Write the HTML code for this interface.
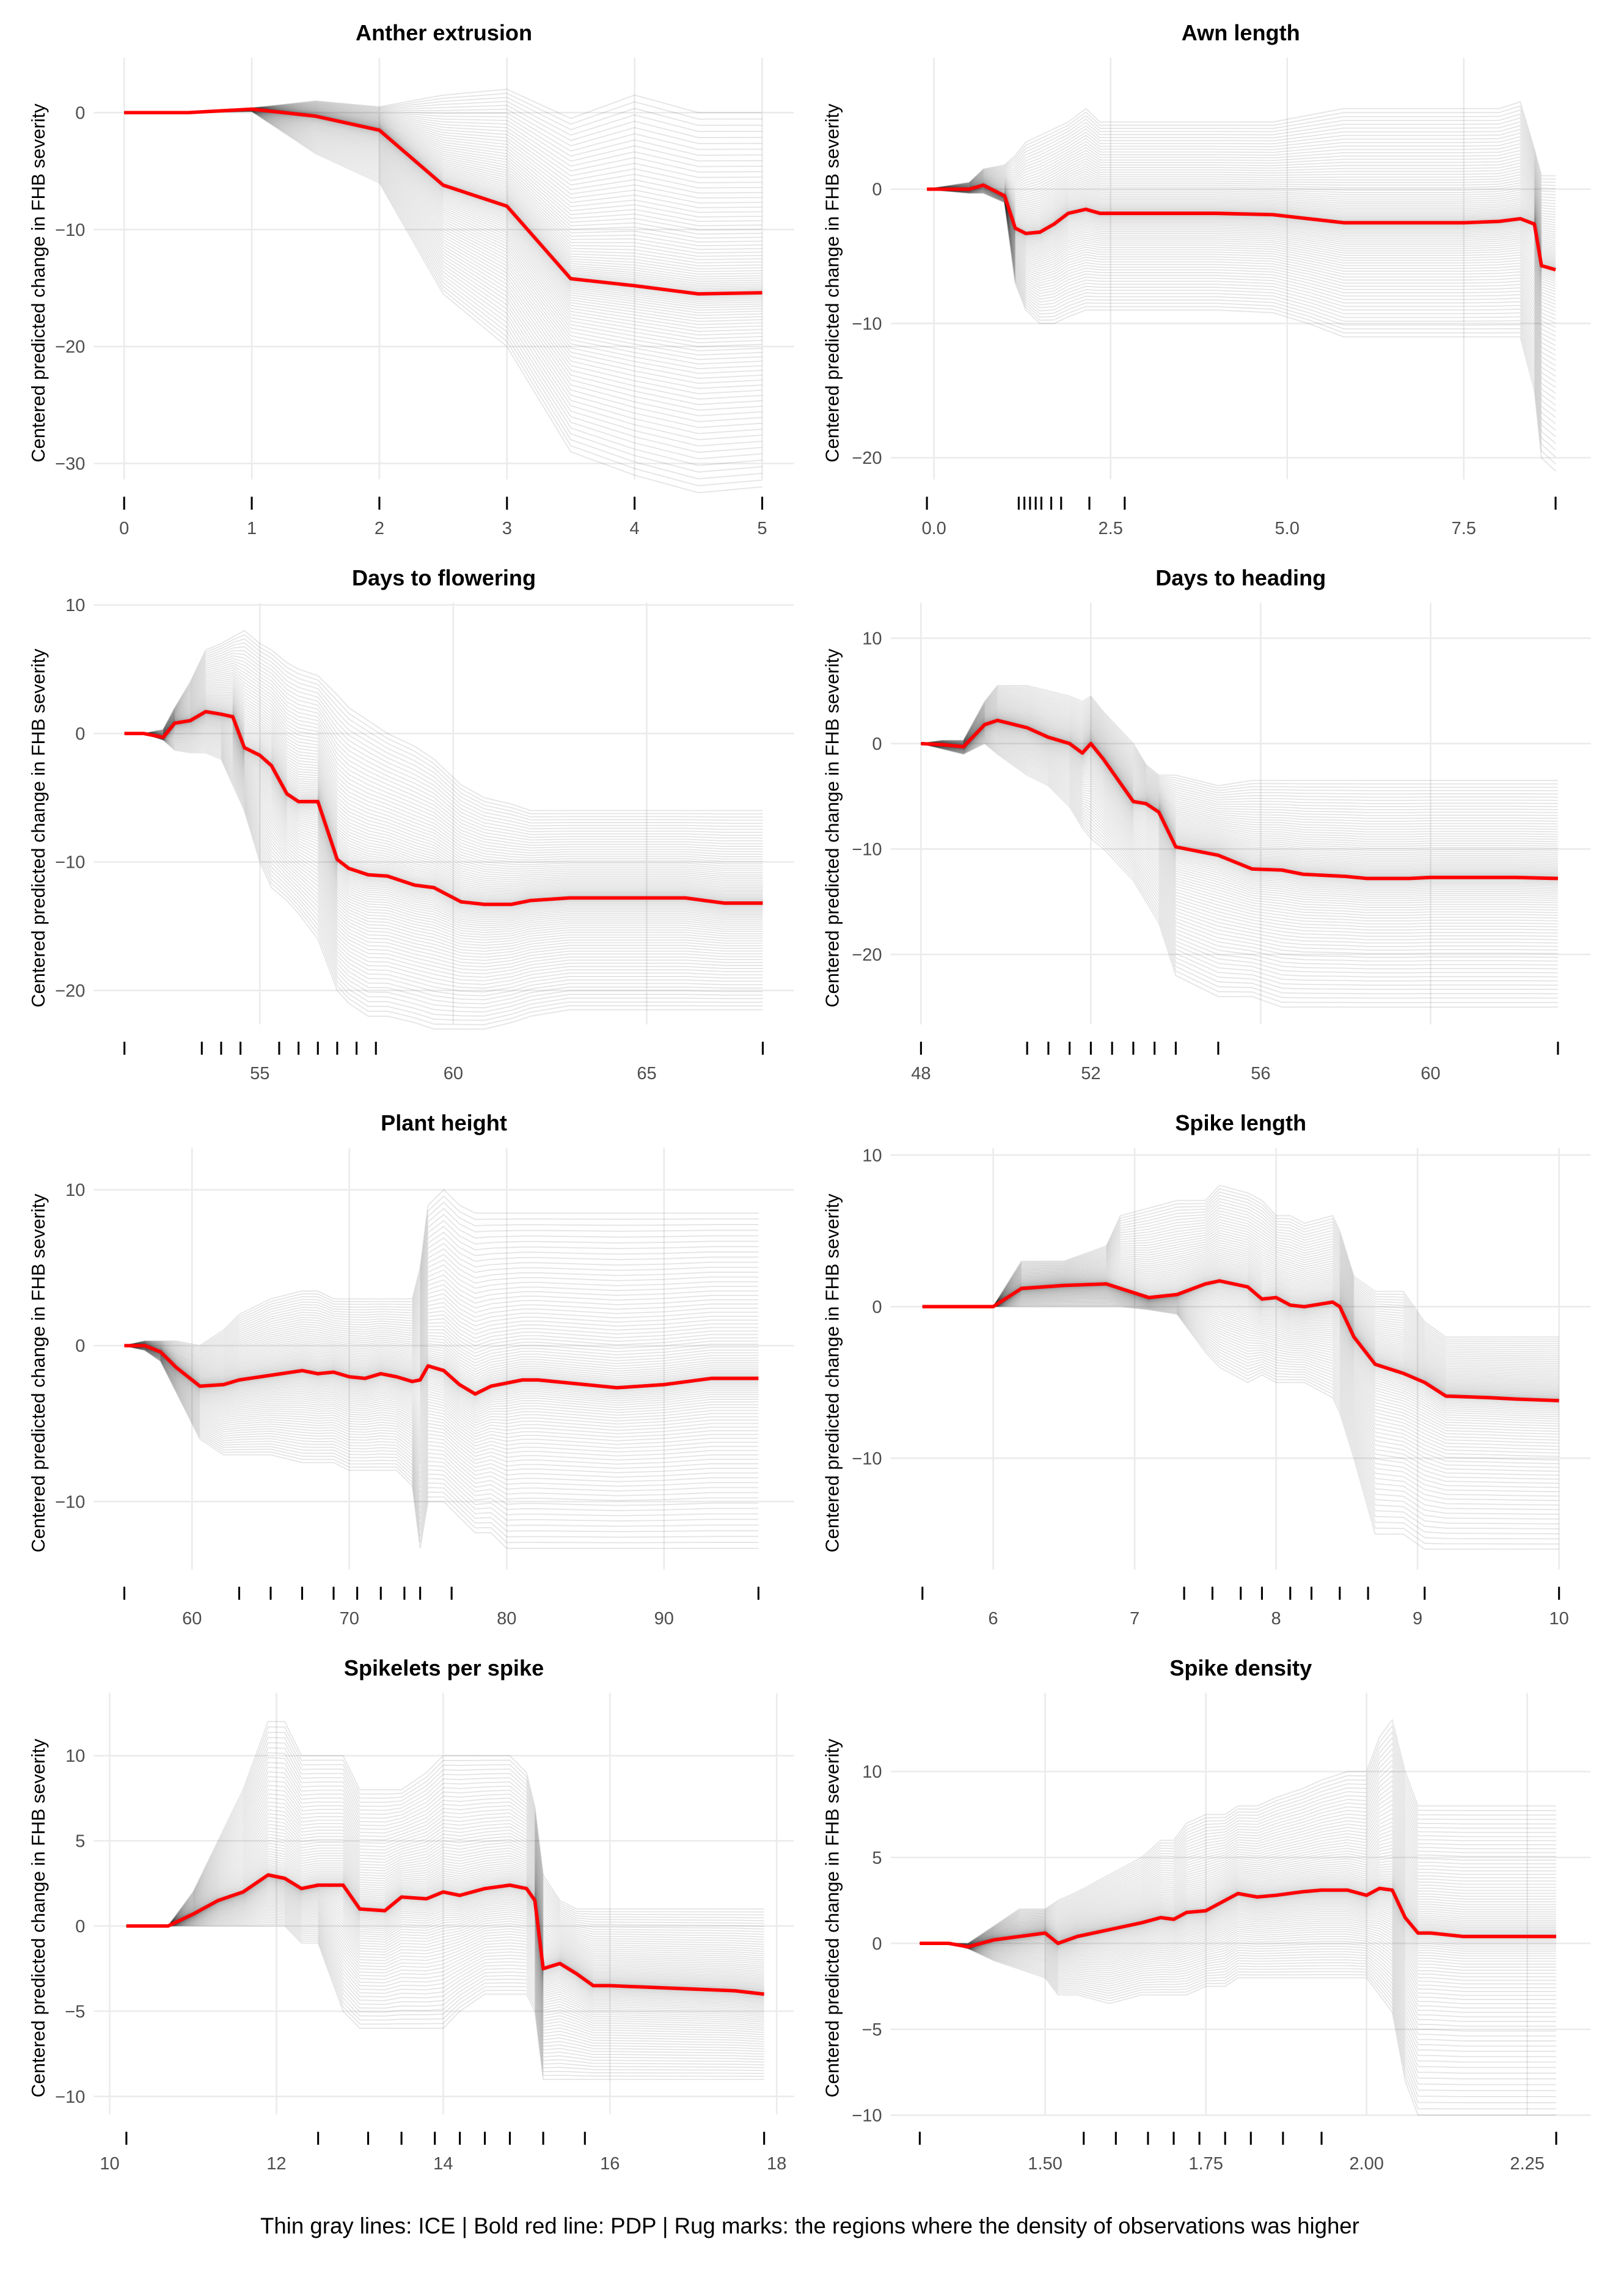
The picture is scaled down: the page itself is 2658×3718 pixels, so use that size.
<!DOCTYPE html>
<html><head><meta charset="utf-8">
<style>
html,body{margin:0;padding:0;background:#fff;}
svg{display:block;font-family:"Liberation Sans",sans-serif;}
</style></head>
<body>
<svg id="chart" width="2658" height="3718" viewBox="0 0 1125 1573.6" xmlns="http://www.w3.org/2000/svg">
<rect width="1125" height="1573.6" fill="#fff"/>
<g id="root"></g>
<text x="561" y="1547" text-anchor="middle" font-size="15.5" fill="#000">Thin gray lines: ICE | Bold red line: PDP | Rug marks: the regions where the density of observations was higher</text>
</svg>
<script>
// ---- data ----
const titles = ["Anther extrusion","Awn length","Days to flowering","Days to heading","Plant height","Spike length","Spikelets per spike","Spike density"];

const p1x = [0,0.5,1,1.5,2,2.5,3,3.5,4,4.5,5];
const p1pdp = [0,0,0.3,-0.3,-1.5,-6.2,-8,-14.2,-14.8,-15.5,-15.4];
const p1hi = [0,0,0.4,1,0.5,1.5,2,-0.5,1.5,0,0];
const p1lo = [0,0,0.1,-3.5,-6,-15.5,-20,-29,-31,-32.5,-32];
const p1rug = [0,1,2,3,4,5];
const p1xt = [0,1,2,3,4,5]; const p1xl = ["0","1","2","3","4","5"];
const p1yt = [0,-10,-20,-30];

const p2x = [-0.1,0.5,0.7,1.0,1.15,1.3,1.5,1.7,1.9,2.15,2.35,2.5,3,4,4.8,5.3,5.8,6.5,7.5,8.0,8.3,8.5,8.6,8.8];
const p2pdp = [0,0,0.3,-0.5,-2.9,-3.3,-3.2,-2.6,-1.8,-1.5,-1.8,-1.8,-1.8,-1.8,-1.9,-2.2,-2.5,-2.5,-2.5,-2.4,-2.2,-2.6,-5.7,-6.0];
const p2hi = [0,0.5,1.5,1.8,2.5,3.5,4,4.5,5,6,5,5,5,5,5,5.5,6,6,6,6,6.5,3,1,1];
const p2lo = [0,-0.3,-0.3,-1,-7,-9,-10,-10,-9.5,-9,-9,-9,-9,-9,-9.2,-10,-11,-11,-11,-11,-11,-15,-20,-21];
const p2rug = [-0.1,1.2,1.28,1.36,1.44,1.52,1.66,1.8,2.2,2.7,8.8];
const p2xt = [0,2.5,5,7.5]; const p2xl = ["0.0","2.5","5.0","7.5"];
const p2yt = [0,-10,-20];

const p3x = [51.5,52,52.5,52.8,53.2,53.6,54,54.3,54.6,55,55.3,55.7,56,56.5,57,57.3,57.8,58.3,59,59.5,60.2,60.8,61.5,62,63,64,65,66,66.5,67,68];
const p3pdp = [0,0,-0.3,0.8,1,1.7,1.5,1.3,-1.1,-1.7,-2.5,-4.7,-5.3,-5.3,-9.8,-10.5,-11,-11.1,-11.8,-12,-13.1,-13.3,-13.3,-13,-12.8,-12.8,-12.8,-12.8,-13,-13.2,-13.2];
const p3hi = [0,0,0.3,2,4,6.5,7,7.5,8,7,6.5,5.5,5,4.5,3,2,1,0,-1,-2,-4,-5,-5.5,-6,-6,-6,-6,-6,-6,-6,-6];
const p3lo = [0,0,-0.5,-1.3,-1.5,-1.5,-2,-4,-6,-10,-12,-13,-14,-16,-20,-21,-22,-22,-22.5,-23,-23,-23,-22.5,-22,-21.5,-21.5,-21.5,-21.5,-21.5,-21.5,-21.5];
const p3rug = [51.5,53.5,54,54.5,55.5,56,56.5,57,57.5,58,68];
const p3xt = [55,60,65]; const p3xl = ["55","60","65"];
const p3yt = [10,0,-10,-20];

const p4x = [48,48.5,49,49.5,49.8,50.5,51,51.5,51.8,52,52.3,53,53.3,53.6,54,55,55.8,56.5,57,58,58.5,59.5,60,62,63];
const p4pdp = [0,-0.1,-0.3,1.8,2.2,1.5,0.6,0,-0.9,0,-1.5,-5.5,-5.7,-6.5,-9.8,-10.6,-11.9,-12,-12.4,-12.6,-12.8,-12.8,-12.7,-12.7,-12.8];
const p4hi = [0,0.3,0.3,4,5.5,5.5,5,4.5,4,4.5,3,0,-2,-3,-3,-4,-3.5,-3.5,-3.5,-3.5,-3.5,-3.5,-3.5,-3.5,-3.5];
const p4lo = [0,-0.5,-1,0,-1,-3,-4,-6,-8,-9,-10,-13,-15,-17,-22,-24,-24,-25,-25,-25,-25,-25,-25,-25,-25];
const p4rug = [48,50.5,51,51.5,52,52.5,53,53.5,54,55,63];
const p4xt = [48,52,56,60]; const p4xl = ["48","52","56","60"];
const p4yt = [10,0,-10,-20];

const p5x = [55.7,57,58,59,60.5,62,63,65,67,68,69,70,71,72,73,74,74.5,75,76,77,78,79,80,81,82,85,87,90,93,96];
const p5pdp = [0,0,-0.4,-1.4,-2.6,-2.5,-2.2,-1.9,-1.6,-1.8,-1.7,-2,-2.1,-1.8,-2,-2.3,-2.2,-1.3,-1.6,-2.5,-3.1,-2.6,-2.4,-2.2,-2.2,-2.5,-2.7,-2.5,-2.1,-2.1];
const p5hi = [0,0.3,0.3,0.3,0,1,2,3,3.5,3.5,3,3,3,3,3,3,5,9,10,9,8.5,8.5,8.5,8.5,8.5,8.5,8.5,8.5,8.5,8.5];
const p5lo = [0,-0.3,-1,-3,-6,-7,-7,-7,-7.5,-7.5,-7.5,-8,-8,-8,-8,-9,-13,-10,-10,-11,-12,-12,-13,-13,-13,-13,-13,-13,-13,-13];
const p5rug = [55.7,63,65,67,69,70.5,72,73.5,74.5,76.5,96];
const p5xt = [60,70,80,90]; const p5xl = ["60","70","80","90"];
const p5yt = [10,0,-10];

const p6x = [5.5,6,6.2,6.5,6.8,6.9,7.1,7.3,7.5,7.6,7.8,7.9,8,8.1,8.2,8.4,8.45,8.55,8.7,8.9,9.05,9.2,9.5,9.7,10];
const p6pdp = [0,0,1.2,1.4,1.5,1.2,0.6,0.8,1.5,1.7,1.3,0.5,0.6,0.1,0,0.3,0,-2,-3.8,-4.4,-5,-5.9,-6,-6.1,-6.2];
const p6hi = [0,0,3,3,4,6,6.5,7,7,8,7.5,7,6,6,5.5,6,5,2,1,1,-1,-2,-2,-2,-2];
const p6lo = [0,0,0,0,0,0,-0.2,-0.5,-3,-4,-5,-4.5,-5,-5,-5,-6,-7,-10,-15,-15,-16,-16,-16,-16,-16];
const p6rug = [5.5,7.35,7.55,7.75,7.9,8.1,8.25,8.45,8.65,9.05,10];
const p6xt = [6,7,8,9,10]; const p6xl = ["6","7","8","9","10"];
const p6yt = [10,0,-10];

const p7x = [10.2,10.7,11,11.3,11.6,11.9,12.1,12.3,12.5,12.8,13,13.3,13.5,13.8,14,14.2,14.5,14.8,15,15.1,15.2,15.4,15.6,15.8,16,16.5,17,17.5,17.85];
const p7pdp = [0,0,0.7,1.5,2,3,2.8,2.2,2.4,2.4,1,0.9,1.7,1.6,2,1.8,2.2,2.4,2.2,1.5,-2.5,-2.2,-2.8,-3.5,-3.5,-3.6,-3.7,-3.8,-4];
const p7hi = [0,0,2,5,8,12,12,10,10,10,8,8,8,9,10,10,10,10,9,7,3,1.5,1,1,1,1,1,1,1];
const p7lo = [0,0,0,0,0,0,0,-1,-1,-5,-6,-6,-6,-6,-6,-5,-4,-4,-4,-5,-9,-9,-9,-9,-9,-9,-9,-9,-9];
const p7rug = [10.2,12.5,13.1,13.5,13.9,14.2,14.5,14.8,15.2,15.7,17.85];
const p7xt = [10,12,14,16,18]; const p7xl = ["10","12","14","16","18"];
const p7yt = [10,5,0,-5,-10];

const p8x = [1.305,1.35,1.38,1.42,1.46,1.5,1.52,1.55,1.6,1.65,1.68,1.7,1.72,1.75,1.78,1.8,1.83,1.86,1.9,1.93,1.97,2.0,2.02,2.04,2.06,2.08,2.1,2.15,2.2,2.295];
const p8pdp = [0,0,-0.2,0.2,0.4,0.6,0,0.4,0.8,1.2,1.5,1.4,1.8,1.9,2.5,2.9,2.7,2.8,3,3.1,3.1,2.8,3.2,3.1,1.5,0.6,0.6,0.4,0.4,0.4];
const p8hi = [0,0,0,1,2,2,2.5,3,4,5,6,6,7,7.5,7.5,8,8,8.5,9,9.5,10,10,12,13,10,8,8,8,8,8];
const p8lo = [0,0,-0.3,-1,-1.5,-2,-3,-3,-3.5,-3,-3,-3,-3,-2.5,-2.5,-2,-2,-2,-2,-2,-2,-2,-3,-4,-8,-10,-10,-10,-10,-10];
const p8rug = [1.305,1.56,1.61,1.66,1.7,1.74,1.78,1.82,1.87,1.93,2.295];
const p8xt = [1.5,1.75,2.0,2.25]; const p8xl = ["1.50","1.75","2.00","2.25"];
const p8yt = [10,5,0,-5,-10];

// ---- layout / scales (axis calibration, not data) ----
const NS = "http://www.w3.org/2000/svg";
const root = document.getElementById('root');
function mk(tag, attrs, parent){const e=document.createElementNS(NS,tag);for(const k in attrs)e.setAttribute(k,attrs[k]);(parent||root).appendChild(e);return e;}

const panels = [
 {x:p1x,pdp:p1pdp,hi:p1hi,lo:p1lo,rug:p1rug,xt:p1xt,xl:p1xl,yt:p1yt, xc:[0,86,5,528], yc:[0,78,-10,159]},
 {x:p2x,pdp:p2pdp,hi:p2hi,lo:p2lo,rug:p2rug,xt:p2xt,xl:p2xl,yt:p2yt, xc:[0,647,7.5,1014], yc:[0,131,-10,224]},
 {x:p3x,pdp:p3pdp,hi:p3hi,lo:p3lo,rug:p3rug,xt:p3xt,xl:p3xl,yt:p3yt, xc:[55,180,65,448], yc:[0,508,-10,597]},
 {x:p4x,pdp:p4pdp,hi:p4hi,lo:p4lo,rug:p4rug,xt:p4xt,xl:p4xl,yt:p4yt, xc:[48,638,60,991], yc:[0,515,-10,588]},
 {x:p5x,pdp:p5pdp,hi:p5hi,lo:p5lo,rug:p5rug,xt:p5xt,xl:p5xl,yt:p5yt, xc:[60,133,90,460], yc:[0,932,-10,1040]},
 {x:p6x,pdp:p6pdp,hi:p6hi,lo:p6lo,rug:p6rug,xt:p6xt,xl:p6xl,yt:p6yt, xc:[6,688,10,1080], yc:[0,905,-10,1010]},
 {x:p7x,pdp:p7pdp,hi:p7hi,lo:p7lo,rug:p7rug,xt:p7xt,xl:p7xl,yt:p7yt, xc:[10,76,18,538], yc:[0,1334,-10,1452]},
 {x:p8x,pdp:p8pdp,hi:p8hi,lo:p8lo,rug:p8rug,xt:p8xt,xl:p8xl,yt:p8yt, xc:[1.5,724,2.25,1058], yc:[0,1346,-10,1465]}
];

panels.forEach((p,i)=>{
  const col=i%2, row=Math.floor(i/2);
  const off=row*377.5;
  const L = col?617:65, R = col?1102:550, T = off+40, B = off+332;
  const sx = v => p.xc[1] + (v-p.xc[0])*(p.xc[3]-p.xc[1])/(p.xc[2]-p.xc[0]);
  const sy = v => p.yc[1] + (v-p.yc[0])*(p.yc[3]-p.yc[1])/(p.yc[2]-p.yc[0]);
  const g = mk('g',{});
  
  
  p.yt.forEach(v=>{const y=sy(v); if(y<T-3||y>B+3) return;
    const l=mk('line',{x1:L,x2:R,y1:y,y2:y,stroke:'#ebebeb','stroke-width':1.1},g);
     
    const t=mk('text',{x:L-6,y:y+4.3,'text-anchor':'end','font-size':12.3,fill:'#4d4d4d'},g); t.textContent=String(v).replace('-','\u2212');
     
  });
  p.xt.forEach((v,k)=>{const x=sx(v);
    const l=mk('line',{x1:x,x2:x,y1:T,y2:B,stroke:'#ebebeb','stroke-width':1.1},g);
     
    const t=mk('text',{x:x,y:off+370,'text-anchor':'middle','font-size':12.3,fill:'#4d4d4d'},g); t.textContent=p.xl[k];
     
  });
  const ice = mk('g',{fill:'none',stroke:'#000','stroke-opacity':0.1,'stroke-width':0.8},g);
   
  const N=48;
  [p.hi,p.lo].forEach(env=>{
    for(let j=1;j<=N;j++){
      const f=Math.pow(j/N,1.7);
      const d=p.x.map((xv,k)=>(k?'L':'M')+sx(xv).toFixed(2)+','+sy(p.pdp[k]+f*(env[k]-p.pdp[k])).toFixed(2)).join('');
      const pa=mk('path',{d:d},ice);
       
    }
  });
  const d=p.x.map((xv,k)=>(k?'L':'M')+sx(xv).toFixed(2)+','+sy(p.pdp[k]).toFixed(2)).join('');
  const pd=mk('path',{d:d,fill:'none',stroke:'#ff0000','stroke-width':2.4,'stroke-linejoin':'round'},g);
   
  p.rug.forEach(v=>{const x=sx(v);
    const r=mk('line',{x1:x,x2:x,y1:off+344,y2:off+353,stroke:'#000','stroke-width':1.3},g);
     
  });
  const tt=mk('text',{x:(L+R)/2,y:off+28,'text-anchor':'middle','font-size':15.3,'font-weight':'bold',fill:'#000'},g);
  tt.textContent=titles[i];
   
  const cy=off+196, cx=col?581:31;
  const yl=mk('text',{x:cx,y:cy,'text-anchor':'middle','font-size':13,fill:'#000',transform:'rotate(-90 '+cx+' '+cy+')'},g);
  yl.textContent='Centered predicted change in FHB severity';
   
});
</script>
</body></html>
